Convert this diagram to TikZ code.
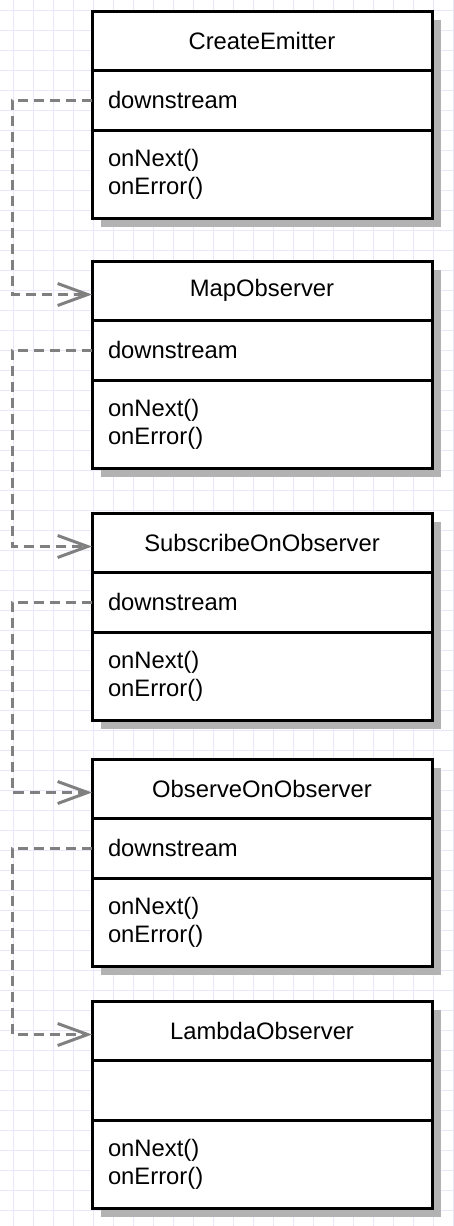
\documentclass[tikz,border=0pt]{standalone}
\usepackage{fontspec}
\setmainfont{Liberation Sans}
\usetikzlibrary{positioning,arrows.meta,shadows}
\definecolor{gridline}{RGB}{232,232,250}
\definecolor{linkgray}{RGB}{128,128,128}

\begin{document}
\begin{tikzpicture}[x=1pt,y=1pt,>={Straight Barb[length=15pt,width=11pt]},
    part/.style={draw,line width=1.5pt,fill=white,outer sep=0pt,inner sep=0pt,minimum width=170pt,
        font=\fontsize{11.9}{14}\selectfont,
        drop shadow={shadow xshift=4.5pt,shadow yshift=-4.5pt,fill=black!30,opacity=1}},
    title/.style={part,minimum height=29.5pt},
    field/.style={part,minimum height=30pt,text width=154pt,align=left},
    ops/.style={part,minimum height=44pt,text width=154pt,align=left},
    link/.style={->,dash pattern=on 5pt off 3pt,draw=linkgray,line width=1.5pt}]

    \useasboundingbox (0,0) rectangle (227,-613);
    \begin{scope}
        \clip (0,0) rectangle (227,-613);
        \draw[gridline,line width=0.5pt,step=10pt,xshift=6.5pt,yshift=-5pt] (-20,-630) grid (240,20);
    \end{scope}

    % classes
    \node[title,anchor=north west] (t1) at (46,-5.5) {CreateEmitter};
    \node[field,below=0pt of t1] (f1) {downstream};
    \node[ops,below=0pt of f1] (m1) {onNext()\\onError()};

    \node[title,below=21.5pt of m1] (t2) {MapObserver};
    \node[field,below=0pt of t2] (f2) {downstream};
    \node[ops,below=0pt of f2] (m2) {onNext()\\onError()};

    \node[title,below=22.5pt of m2] (t3) {SubscribeOnObserver};
    \node[field,below=0pt of t3] (f3) {downstream};
    \node[ops,below=0pt of f3] (m3) {onNext()\\onError()};

    \node[title,below=19.5pt of m3] (t4) {ObserveOnObserver};
    \node[field,below=0pt of t4] (f4) {downstream};
    \node[ops,below=0pt of f4] (m4) {onNext()\\onError()};

    \node[title,below=17.5pt of m4] (t5) {LambdaObserver};
    \node[field,below=0pt of t5] (f5) {};
    \node[ops,below=0pt of f5] (m5) {onNext()\\onError()};

    % downstream links
    \draw[link] (f1.west) -- ++(-40,0) |- ([yshift=-2pt]t2.west);
    \draw[link] (f2.west) -- ++(-40,0) |- ([yshift=-2pt]t3.west);
    \draw[link] (f3.west) -- ++(-40,0) |- ([yshift=-2pt]t4.west);
    \draw[link] (f4.west) -- ++(-40,0) |- ([yshift=-2pt]t5.west);
\end{tikzpicture}
\end{document}
